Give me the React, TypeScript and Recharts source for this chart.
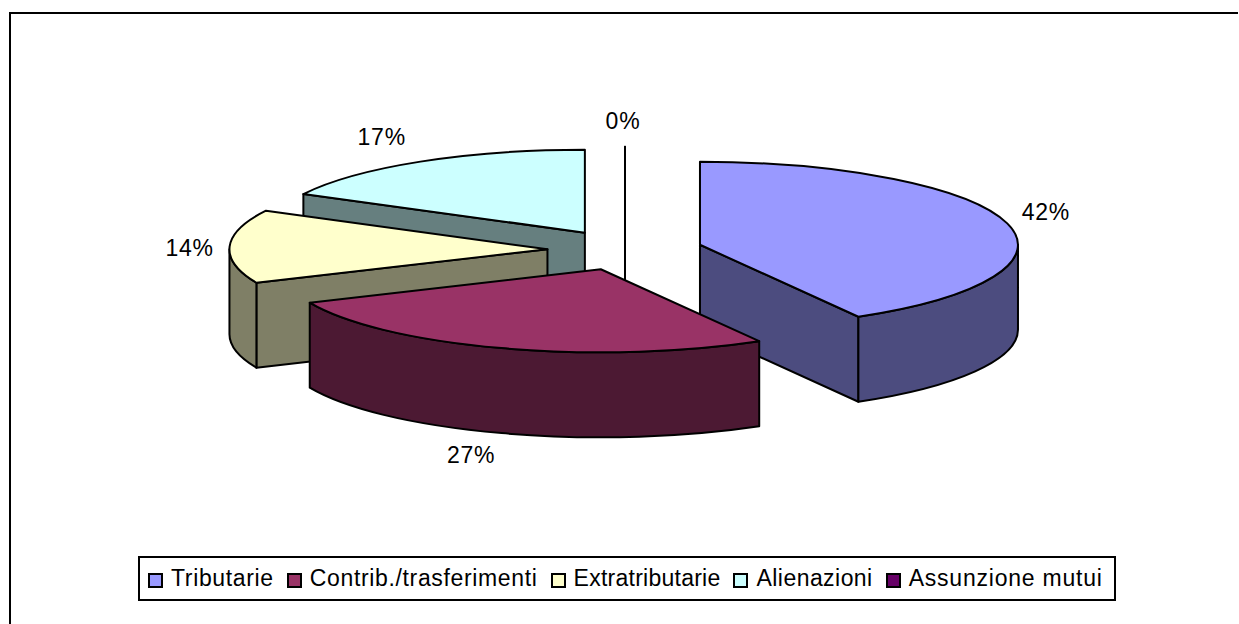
import React from 'react'
import { PieChart, Pie, Legend } from 'recharts'

const categories = ['Tributarie', 'Contrib./trasferimenti', 'Extratributarie', 'Alienazioni', 'Assunzione mutui']
const shares = [41.7, 26.7, 14.3, 17.3, 0]
const topColors = ['#9999FF', '#993366', '#FFFFCC', '#CCFFFF', '#660066']
const sideColors = ['#4C4C7F', '#4C1933', '#7F7F66', '#667F7F', '#330033']
// painter's order, back to front
const drawOrder = [4, 0, 3, 2, 1]

const data = categories.map((name, i) => ({ name, value: shares[i] }))

const FONT = '"Liberation Sans", Arial, sans-serif'
const RY = 83
const DEPTH = 85
const EXPLODE = 0.244
const labelNudge = [[0, -5], [-18, -3], [0, 2], [-18, -2], [-2, 0]]
const legendSpacing = [0.65, 0.65, 0.25, 0.45, 0.78]

const rad = (d: number) => (d * Math.PI) / 180

// clock angle (0 = top, clockwise) from the recharts angle
const clock = (a: number) => 90 - a

function Slice3D(props: any) {
  const { cx, cy, outerRadius: rx, startAngle, endAngle, midAngle, index, only } = props
  if (index !== only) return null
  const t0 = clock(startAngle)
  const t1 = clock(endAngle)
  const tm = clock(midAngle)
  const ax = cx + EXPLODE * rx * Math.sin(rad(tm))
  const ay = cy - EXPLODE * RY * Math.cos(rad(tm))
  const rim = (t: number, d = 0) => `${ax + rx * Math.sin(rad(t))} ${ay - RY * Math.cos(rad(t)) + d}`
  const cut = (t: number) => `M${ax} ${ay}L${rim(t)}L${rim(t, DEPTH)}L${ax} ${ay + DEPTH}Z`
  const style = { stroke: '#000', strokeWidth: 2, strokeLinejoin: 'round' as const }
  const wallFrom = Math.max(t0, 90)
  const wallTo = Math.min(t1, 270)
  const large = t1 - t0 > 180 ? 1 : 0
  return (
    <g>
      {Math.sin(rad(t0)) < -1e-6 && <path d={cut(t0)} fill={sideColors[index]} {...style} />}
      {Math.sin(rad(t1)) > 1e-6 && <path d={cut(t1)} fill={sideColors[index]} {...style} />}
      {t1 === t0 && <path d={cut(t0)} fill={sideColors[index]} {...style} />}
      {wallTo > wallFrom && (
        <path
          d={`M${rim(wallFrom)}A${rx} ${RY} 0 0 1 ${rim(wallTo)}L${rim(wallTo, DEPTH)}A${rx} ${RY} 0 0 0 ${rim(wallFrom, DEPTH)}Z`}
          fill={sideColors[index]}
          {...style}
        />
      )}
      <path d={`M${ax} ${ay}L${rim(t0)}A${rx} ${RY} 0 ${large} 1 ${rim(t1)}Z`} fill={topColors[index]} {...style} />
    </g>
  )
}

function renderLabel(props: any) {
  const { cx, cy, outerRadius: rx, midAngle, index, percent } = props
  const tm = clock(midAngle)
  const s = Math.sin(rad(tm))
  const c = Math.cos(rad(tm))
  const front = tm > 90 && tm < 270 ? DEPTH : 0
  const x = cx + (1 + EXPLODE) * rx * s + 40 * s + labelNudge[index][0]
  const y = cy - (1 + EXPLODE) * RY * c - 26 * c + front + labelNudge[index][1]
  return (
    <text x={x} y={y} textAnchor="middle" dominantBaseline="central" fontFamily={FONT} fontSize={23} letterSpacing={0.8} fill="#000">
      {`${Math.round(percent * 100)}%`}
    </text>
  )
}

function LegendBox() {
  return (
    <div
      style={{
        display: 'flex',
        alignItems: 'center',
        boxSizing: 'border-box',
        width: 978,
        height: 45,
        paddingLeft: 8,
        border: '2px solid #000',
        background: '#fff',
        fontFamily: FONT,
        fontSize: 23,
        color: '#000',
        whiteSpace: 'nowrap',
      }}
    >
      {categories.map((name, i) => (
        <span key={name} style={{ display: 'flex', alignItems: 'center', marginRight: 13, letterSpacing: legendSpacing[i] }}>
          <span
            style={{
              width: 15,
              height: 15,
              boxSizing: 'border-box',
              border: '2px solid #000',
              background: topColors[i],
              marginRight: 8,
              marginTop: 3,
            }}
          />
          {name}
        </span>
      ))}
    </div>
  )
}

export default function App() {
  return (
    <div style={{ position: 'absolute', left: 0, top: 0, width: 1239, height: 624, background: '#fff', overflow: 'hidden' }}>
      <div
        style={{
          position: 'absolute',
          left: 9,
          top: 12,
          width: 1229,
          height: 640,
          boxSizing: 'border-box',
          borderTop: '2px solid #000',
          borderLeft: '2px solid #000',
        }}
      />
      <div style={{ position: 'absolute', left: 0, top: 0 }}>
        <PieChart width={1239} height={624} margin={{ top: 0, right: 0, bottom: 0, left: 0 }}>
          {drawOrder.map((idx) => (
            <Pie
              key={idx}
              data={data}
              dataKey="value"
              nameKey="name"
              cx={625}
              cy={250}
              innerRadius={0}
              outerRadius={318}
              startAngle={90}
              endAngle={-270}
              isAnimationActive={false}
              shape={(p: any) => <Slice3D {...p} only={idx} />}
            />
          ))}
          <Pie
            data={data}
            dataKey="value"
            cx={625}
            cy={250}
            outerRadius={318}
            startAngle={90}
            endAngle={-270}
            isAnimationActive={false}
            shape={() => null}
            labelLine={false}
            label={renderLabel}
          />
          <Legend
            content={<LegendBox />}
            layout="horizontal"
            wrapperStyle={{ position: 'absolute', left: 138, top: 556, width: 978, height: 45 }}
          />
        </PieChart>
      </div>
    </div>
  )
}
